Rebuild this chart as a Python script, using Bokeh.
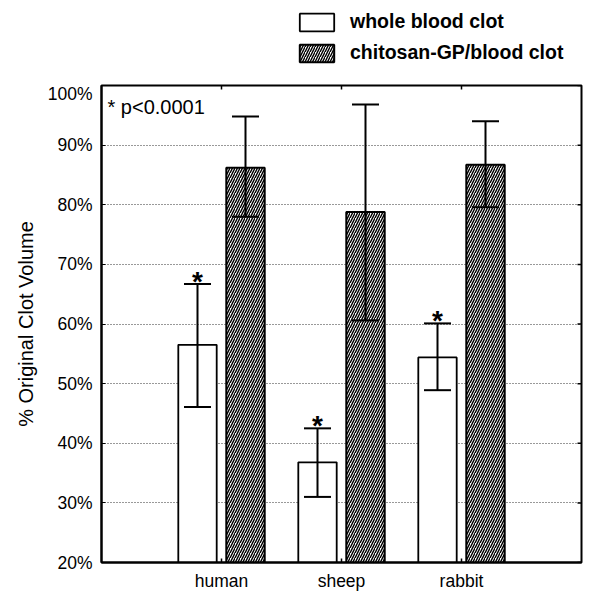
import math
from bokeh.plotting import figure
from bokeh.layouts import column
from bokeh.models import (ColumnDataSource, Range1d, FixedTicker, Whisker,
                          TeeHead, Legend, LegendItem, PrintfTickFormatter)
from bokeh.core.properties import value
from bokeh.embed import file_html
from bokeh.resources import INLINE

# ---- data ----
categories = ["human", "sheep", "rabbit"]
series_names = ["whole blood clot", "chitosan-GP/blood clot"]
whole_mean = [56.5, 36.8, 54.4]
whole_upper = [66.7, 42.5, 60.1]
whole_lower = [46.1, 31.0, 48.9]
chito_mean = [86.2, 78.8, 86.7]
chito_upper = [94.8, 96.8, 94.0]
chito_lower = [78.0, 60.6, 79.6]
whole_marks = ["*", "*", "*"]
y_ticks = [20, 30, 40, 50, 60, 70, 80, 90, 100]
annotation = "* p<0.0001"
y_title = "% Original Clot Volume"

FONT = "Liberation Sans"
OFF = 0.2
BW = 0.32
W = 584

WHITE_STYLE = dict(fill_color="white", line_color="black", line_width=1.8)
HATCH_STYLE = dict(fill_color="white", line_color="black", line_width=2,
                   hatch_pattern="/", hatch_color="black", hatch_scale=5,
                   hatch_weight=1.45)

centers = [i + 1 for i in range(len(categories))]

src_w = ColumnDataSource(dict(
    x=[c - OFF for c in centers], top=whole_mean, upper=whole_upper,
    lower=whole_lower, mark=whole_marks))
src_c = ColumnDataSource(dict(
    x=[c + OFF for c in centers], top=chito_mean, upper=chito_upper,
    lower=chito_lower))

# ---------------- legend strip above the chart ----------------
# hidden renderers only provide the legend swatches
lg = figure(width=W, height=83, x_range=Range1d(-1, 0), y_range=Range1d(0, 1),
            x_axis_location=None, y_axis_location=None,
            output_backend="svg", toolbar_location=None,
            min_border_left=0, min_border_right=0, min_border_top=0,
            min_border_bottom=0)
lg.outline_line_color = None
lg.xgrid.visible = False
lg.ygrid.visible = False
sw_w = lg.vbar(x="x", top="top", bottom=0, width=BW, source=src_w, **WHITE_STYLE)
sw_c = lg.vbar(x="x", top="top", bottom=0, width=BW, source=src_c, **HATCH_STYLE)
sw_w.visible = False
sw_c.visible = False
legend = Legend(items=[LegendItem(label=series_names[0], renderers=[sw_w]),
                       LegendItem(label=series_names[1], renderers=[sw_c])],
                location=(194, 19), padding=0, margin=0, spacing=8,
                glyph_width=43, glyph_height=22, label_height=22,
                label_standoff=12, border_line_color=None,
                background_fill_alpha=0, inactive_fill_alpha=0,
                label_text_font=FONT, label_text_font_style="bold",
                label_text_font_size="19.5px", label_text_color="black")
lg.add_layout(legend)

# ---------------- main chart ----------------
p = figure(width=W, height=510,
           x_range=Range1d(0, len(categories) + 1),
           y_range=Range1d(y_ticks[0], y_ticks[-1]),
           output_backend="svg", toolbar_location=None,
           min_border_left=101, min_border_right=3,
           min_border_top=2, min_border_bottom=28)

p.background_fill_color = "white"
p.outline_line_color = "black"
p.outline_line_width = 2

y_ticker = FixedTicker(ticks=y_ticks)
x_ticker = FixedTicker(ticks=centers)

# bars
r_w = p.vbar(x="x", top="top", bottom=y_ticks[0], width=BW, source=src_w,
             **WHITE_STYLE)
r_c = p.vbar(x="x", top="top", bottom=y_ticks[0], width=BW, source=src_c,
             **HATCH_STYLE)

# error bars
for src in (src_w, src_c):
    w = Whisker(base="x", upper="upper", lower="lower", source=src,
                line_color="black", line_width=2,
                upper_head=TeeHead(size=27, line_width=2, line_color="black"),
                lower_head=TeeHead(size=27, line_width=2, line_color="black"))
    w.level = "annotation"
    p.add_layout(w)

# significance marks
p.text(x="x", y="upper", text="mark", source=src_w, text_align="center",
       text_baseline="alphabetic", y_offset=-3, text_color="black",
       text_font=value(FONT), text_font_style="bold", text_font_size="28px")

# p-value annotation
p.text(x=[p.x_range.start], y=[p.y_range.end], text=[annotation],
       x_offset=6, y_offset=10, text_align="left", text_baseline="top",
       text_color="black", text_font=value(FONT), text_font_size="20px")

# grid
p.xgrid.visible = False
p.ygrid.ticker = y_ticker
p.ygrid.grid_line_color = "#333333"
p.ygrid.grid_line_dash = "1 2"
p.ygrid.grid_line_width = 1

# inward tick marks on the right and top frame edges
p.ray(x=[p.x_range.end] * len(y_ticks), y=y_ticks, length=4,
      length_units="screen", angle=math.pi, line_color="black", line_width=1.5)
p.ray(x=centers, y=[p.y_range.end] * len(centers), length=4,
      length_units="screen", angle=-math.pi / 2, line_color="black",
      line_width=1.5)

# bottom axis
xa = p.xaxis[0]
xa.ticker = x_ticker
xa.major_label_overrides = {c: cat for c, cat in zip(centers, categories)}
xa.major_tick_in = 4
xa.major_tick_out = 0
xa.minor_tick_line_color = None
xa.axis_line_width = 2
xa.major_tick_line_width = 1.5
xa.major_label_standoff = 8
xa.major_label_text_font = FONT
xa.major_label_text_font_size = "17.5px"
xa.major_label_text_color = "black"

# left axis
ya = p.yaxis[0]
ya.ticker = y_ticker
ya.formatter = PrintfTickFormatter(format="%d%%")
ya.major_tick_in = 4
ya.major_tick_out = 0
ya.minor_tick_line_color = None
ya.axis_line_width = 2
ya.major_label_standoff = 9
ya.major_label_text_font = FONT
ya.major_label_text_font_size = "17.5px"
ya.major_label_text_color = "black"
ya.axis_label = y_title
ya.axis_label_text_font = FONT
ya.axis_label_text_font_size = "20px"
ya.axis_label_text_font_style = "normal"
ya.axis_label_text_color = "black"
ya.axis_label_standoff = 8

layout = column(lg, p, spacing=0)
open("out.html", "w").write(file_html(layout, INLINE))
